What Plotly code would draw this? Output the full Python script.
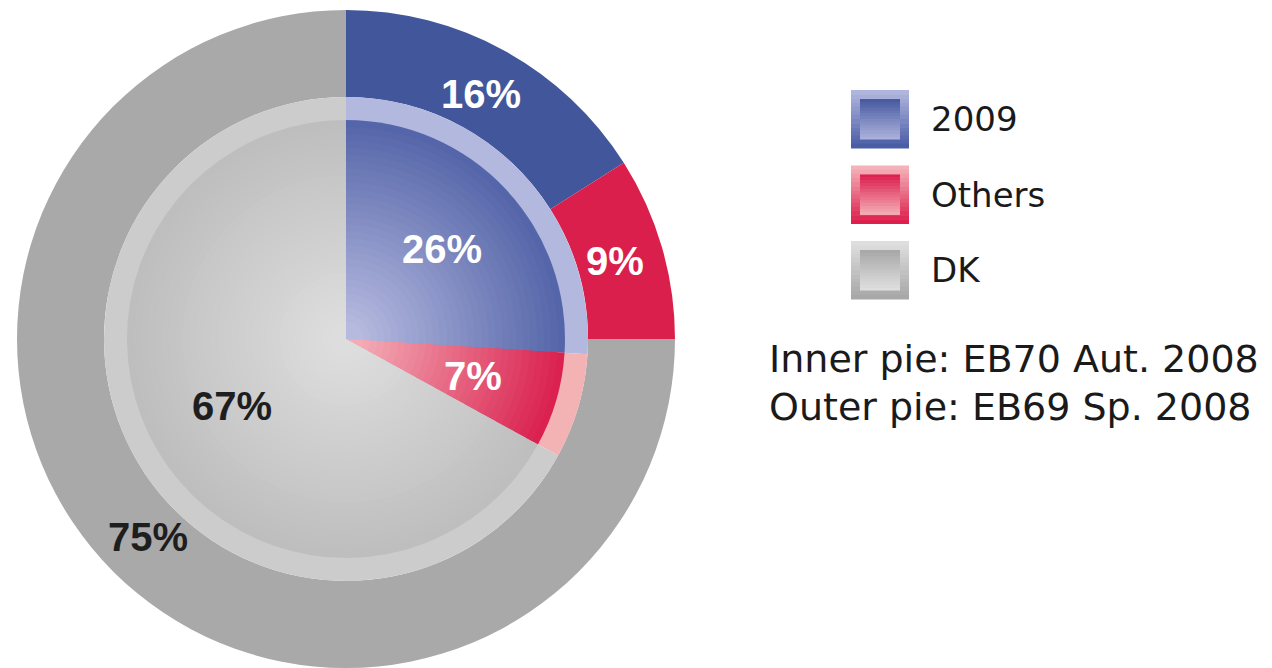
import math
import plotly.graph_objects as go

# data
categories = ["2009", "Others", "DK"]
inner_values = [26, 7, 67]   # inner pie: EB70 Aut. 2008
outer_values = [16, 9, 75]   # outer pie: EB69 Sp. 2008
inner_note = "Inner pie: EB70 Aut. 2008"
outer_note = "Outer pie: EB69 Sp. 2008"

# the page puts the figure 8px in from the top-left corner
OFF = 8
W, H = 1272 - OFF, 668 - OFF
CX, CY = 346 - OFF, 339 - OFF
R_OUT, R_BAND, R_CORE = 329, 242, 219

outer_colors = ["#42579B", "#DB1F4C", "#A9A9A9"]
band_colors = ["#B3B8DE", "#F3B3B5", "#CCCCCC"]
core_edge = ["#5565A9", "#DA2150", "#BEBEBE"]
core_centre = ["#B6BADF", "#F3ACB5", "#DDDDDD"]
label_colors = ["white", "white", "#1E1E1E"]


def px(x):
    return x / W


def py(y):
    return 1 - y / H


def dom(r):
    return dict(x=[px(CX - r), px(CX + r)], y=[py(CY + r), py(CY - r)])


def mix(c1, c2, t):
    a = [int(c1[i:i + 2], 16) for i in (1, 3, 5)]
    b = [int(c2[i:i + 2], 16) for i in (1, 3, 5)]
    return "#%02X%02X%02X" % tuple(round(a[k] + (b[k] - a[k]) * t) for k in range(3))


def pie(values, colors, r, hole=0):
    return go.Pie(labels=categories, values=values, sort=False, direction="clockwise",
                  rotation=0, hole=hole, domain=dom(r), textinfo="none",
                  marker=dict(colors=colors, line=dict(width=0)), showlegend=False)


fig = go.Figure()
fig.add_trace(pie(outer_values, outer_colors, R_OUT, hole=R_BAND / R_OUT))
fig.add_trace(pie(inner_values, band_colors, R_BAND))

# stacked shrinking pies give the inner pie its light-centred shading
N = 30
for i in range(N):
    t = i / (N - 1)
    r = R_CORE * (1 - 0.92 * t)
    fig.add_trace(pie(inner_values, [mix(core_edge[k], core_centre[k], t) for k in range(3)], r))

annotations = []


def slice_labels(values, r):
    cum = 0
    for v, col in zip(values, label_colors):
        a = math.radians((cum + v / 2) / sum(values) * 360)
        cum += v
        annotations.append(dict(x=px(CX + r * math.sin(a)), y=py(CY - r * math.cos(a)),
                                xref="paper", yref="paper", text="%d%%" % v, showarrow=False,
                                font=dict(family="Liberation Sans", size=40, color=col, weight="bold"),
                                xanchor="center", yanchor="middle"))


slice_labels(outer_values, 280)
slice_labels(inner_values, 132)

# legend swatches with bevelled gradient look
shapes = []
sw_top = [["#B0B5DE", "#4A5EA6"], ["#F4B2B9", "#DC1F4C"], ["#DEDEDE", "#A8A8A8"]]
sw_in = [["#485BA1", "#AAB0DA"], ["#DC2050", "#F3AAB3"], ["#A9A9A9", "#DEDEDE"]]


def grad_rect(x0, y0, x1, y1, c_top, c_bot, n=14):
    h = (y1 - y0) / n
    for k in range(n):
        shapes.append(dict(type="rect", xref="paper", yref="paper",
                           x0=px(x0), x1=px(x1), y0=py(y0 + k * h), y1=py(y0 + (k + 1) * h + 0.5),
                           fillcolor=mix(c_top, c_bot, k / (n - 1)), line=dict(width=0)))


LX, LTOP, LSTEP, SIZE, BORDER = 851 - OFF, 90 - OFF, 75.5, 58, 9
for j, name in enumerate(categories):
    y0 = LTOP + j * LSTEP
    grad_rect(LX, y0, LX + SIZE, y0 + SIZE, *sw_top[j])
    grad_rect(LX + BORDER, y0 + BORDER, LX + SIZE - BORDER, y0 + SIZE - BORDER, *sw_in[j])
    annotations.append(dict(x=px(929 - OFF), y=py(y0 + SIZE / 2), xref="paper", yref="paper",
                            text=name, showarrow=False, xanchor="left", yanchor="middle",
                            font=dict(family="DejaVu Sans", size=34, color="#1A1A1A")))

for k, note in enumerate([inner_note, outer_note]):
    annotations.append(dict(x=px(767 - OFF), y=py(359 - OFF + k * 48), xref="paper", yref="paper",
                            text=note, showarrow=False, xanchor="left", yanchor="middle",
                            font=dict(family="DejaVu Sans", size=38, color="#1A1A1A")))

fig.update_layout(width=W, height=H, margin=dict(l=0, r=0, t=0, b=0),
                  paper_bgcolor="white", plot_bgcolor="white",
                  shapes=shapes, annotations=annotations)

fig.write_html("out.html")
